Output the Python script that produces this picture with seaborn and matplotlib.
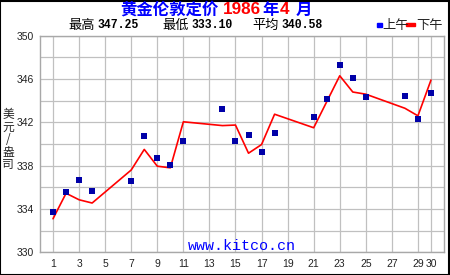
import matplotlib
matplotlib.use("Agg")
import matplotlib.pyplot as plt
import seaborn as sns
import pandas as pd
from matplotlib.patches import Rectangle

# ---- data ----
days = [1, 2, 3, 4, 7, 8, 9, 10, 11, 14, 15, 16, 17, 18, 21, 22, 23, 24, 25, 28, 29, 30]
am_price = [333.7, 335.55, 336.65, 335.65, 336.55, 340.7, 338.7, 338.1, 340.25, 343.2, 340.25,
            340.8, 339.3, 341.0, 342.45, 344.2, 347.25, 346.05, 344.3, 344.4, 342.35, 344.75]
pm_price = [333.1, 335.45, 334.85, 334.55, 337.6, 339.5, 337.95, 337.8, 342.05, 341.7, 341.75,
            339.15, 339.95, 342.75, 341.5, 343.9, 346.3, 344.8, 344.6, 343.3, 342.6, 345.9]
x_ticks = [1, 3, 5, 7, 9, 11, 13, 15, 17, 19, 21, 23, 25, 27, 29, 30]
y_ticks = [330, 334, 338, 342, 346, 350]
y_grid = [330, 332, 334, 336, 338, 340, 342, 344, 346, 348, 350]
stat_labels = ["最高", "最低", "平均"]
stat_values = ["347.25", "333.10", "340.58"]
legend_labels = ["上午", "下午"]

df = pd.DataFrame({"day": days, "am": am_price, "pm": pm_price})

W, H = 450, 275
sns.set_style("white")
plt.rcParams['font.family'] = ['Noto Sans CJK SC', 'DejaVu Sans']

fig = plt.figure(figsize=(4.5, 2.75), dpi=100)
fig.patch.set_facecolor("white")
renderer = fig.canvas.get_renderer()

def px(x, y):
    return x / W, 1 - y / H

ax = fig.add_axes([40 / W, (H - 252.3) / H, (444 - 40) / W, (252.3 - 35.7) / H])

grid_c = "#C0C0C0"
for gx in x_ticks:
    ax.axvline(gx, color=grid_c, lw=0.9, zorder=0)
for gy in y_grid:
    ax.axhline(gy, color=grid_c, lw=0.9, zorder=0)

sns.lineplot(data=df, x="day", y="pm", ax=ax, color="#FF0000", lw=1.2, zorder=3)
sns.scatterplot(data=df, x="day", y="am", ax=ax, color="#0000A8", marker="s", s=16,
                linewidth=0, zorder=4)

ax.set_xlim(0, 31)
ax.set_ylim(330, 350)
ax.set_xticks(x_ticks)
ax.set_xticklabels([str(t) for t in x_ticks])
ax.set_yticks(y_ticks)
ax.set_yticklabels([str(t) for t in y_ticks])
ax.tick_params(axis="both", length=0, labelsize=7.5, colors="#222222")
ax.tick_params(axis="x", pad=5)
ax.tick_params(axis="y", pad=4.5)
for lab in ax.get_xticklabels() + ax.get_yticklabels():
    lab.set_family(["Liberation Sans", "DejaVu Sans"])
ax.set_xlabel("")
ax.set_ylabel("")
for s in ax.spines.values():
    s.set_color("#A8A8A8")
    s.set_linewidth(1.0)

# watermark
ax.text(0.5, (252.3 - 246.5) / (252.3 - 35.7), "www.kitco.cn", transform=ax.transAxes,
        ha="center", va="center", color="#0000FF", fontsize=10.8,
        family=["Liberation Mono", "DejaVu Sans Mono"], zorder=5)

# title (multi colour, chained)
tparts = [("黄金伦敦定价", "#0000FF", ["Noto Sans CJK SC"], 11.8, 5),
          ("1986", "#FF0000", ["Liberation Sans"], 12.3, 1),
          ("年", "#0000FF", ["Noto Sans CJK SC"], 11.8, 1),
          ("4", "#FF0000", ["Liberation Sans"], 12.3, 6),
          ("月", "#0000FF", ["Noto Sans CJK SC"], 11.8, 0)]
xcur = 120
for txt, c, fam, fs, gap in tparts:
    t = fig.text(*px(xcur, 10), txt, color=c, fontsize=fs, fontweight="bold", family=fam,
                 ha="left", va="center")
    bb = t.get_window_extent(renderer=renderer)
    xcur += bb.width + gap

# stats line
stat_x = [68, 162, 252]
for lab, val, x0 in zip(stat_labels, stat_values, stat_x):
    fig.text(*px(x0, 25), lab, color="black", fontsize=9.5, family=["Noto Sans CJK SC"],
             ha="left", va="center")
    fig.text(*px(x0 + 29, 25.5), val, color="black", fontsize=8.3, fontweight="bold",
             family=["Liberation Mono", "DejaVu Sans Mono"], ha="left", va="center")

# legend
fig.patches.append(Rectangle(px(377, 27), 4.5 / W, 4.5 / H, transform=fig.transFigure,
                             color="#0000FF", figure=fig))
fig.text(*px(382, 25), legend_labels[0], fontsize=9.5, family=["Noto Sans CJK SC"],
         ha="left", va="center")
fig.patches.append(Rectangle(px(406, 26), 9 / W, 2.5 / H, transform=fig.transFigure,
                             color="#FF0000", figure=fig))
fig.text(*px(416, 25), legend_labels[1], fontsize=9.5, family=["Noto Sans CJK SC"],
         ha="left", va="center")

# y label (vertical stacked)
fig.text(*px(8, 140), "美\n元\n/\n盎\n司", fontsize=8.5, family=["Noto Sans CJK SC", "DejaVu Sans"],
         ha="center", va="center", linespacing=0.95)

# figure border
fig.patches.append(Rectangle((0, 0), 1 - 1 / W, 1 - 1 / H, transform=fig.transFigure,
                             fill=False, edgecolor="black", lw=1.5, figure=fig))

fig.savefig("out.png", dpi=100)
